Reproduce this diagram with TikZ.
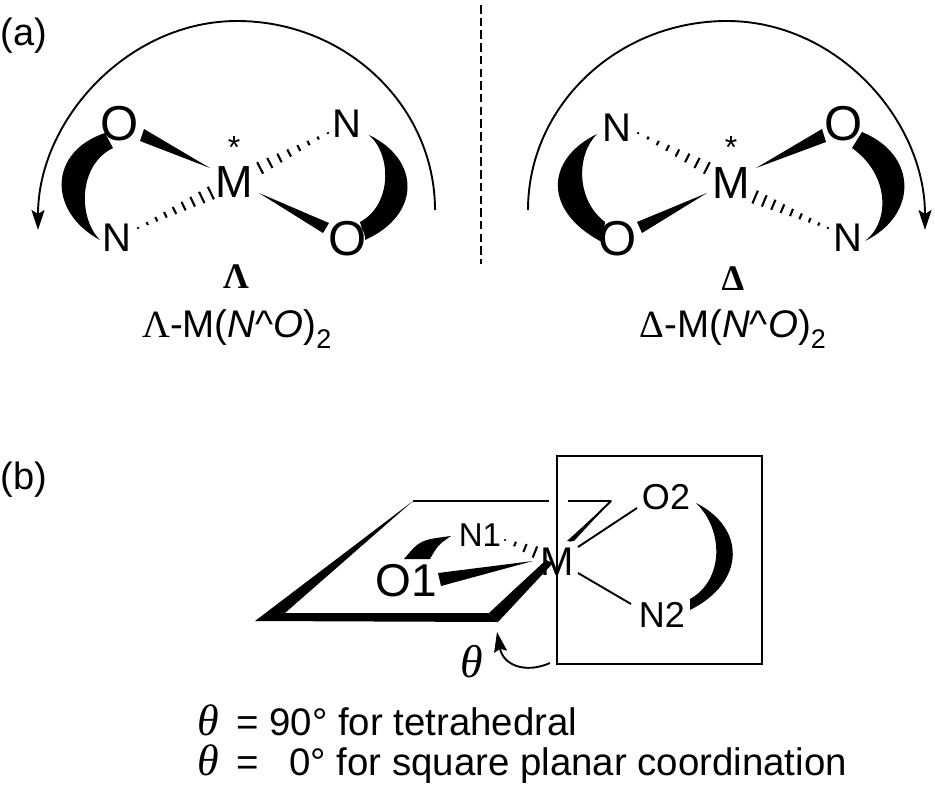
\documentclass[tikz,border=0pt]{standalone}
\usepackage{fontspec}
\setmainfont{Liberation Sans}
\newfontfamily\serifgk{Liberation Serif}
\usetikzlibrary{calc,arrows.meta}
\newcommand{\fs}[1]{\fontsize{#1}{#1}\selectfont}
\newcommand{\thetasym}{\makebox[39pt][l]{\serifgk\itshape\fs{44}θ}}
\newcommand{\hashbond}[4]{% narrow, wide, count, half width
  \foreach \i in {1,...,#3}{
    \pgfmathsetmacro{\p}{0.002+0.996*(\i-1)/(#3-1)}
    \pgfmathsetmacro{\w}{#4*(0.12+0.88*\p)}
    \draw[hashline] ($(#1)!\p!(#2)!\w pt!90:(#2)$) -- ($(#1)!\p!(#2)!\w pt!-90:(#2)$);
  }}
\newcommand{\wedgebond}[3]{\fill (#1) -- (#2) -- (#3) -- cycle;}
\tikzset{
  every node/.style={inner sep=0pt,outer sep=0pt},
  thinline/.style={line width=1.9pt,black},
  hashline/.style={line width=2.1pt,black},
  paneltag/.style={font=\fs{38}},
  bigO/.style={font=\fs{49}},
  atomN/.style={font=\fs{40}},
  metal/.style={font=\fs{45}},
  starmark/.style={font=\fs{32}},
  formula/.style={font=\fs{38.5}},
  chir/.style={font=\serifgk\bfseries\fs{36}},
  notetext/.style={font=\fs{38.4},anchor=base west},
  arrowline/.style={thinline,-{Stealth[length=20pt,width=13pt,inset=4pt]}}
}
\begin{document}
\begin{tikzpicture}[x=1pt,y=-1pt]
\useasboundingbox (0,0) rectangle (935,788);
% ---------- panel a, left
\node[paneltag] (la) at (24,36) {(a)};
\fill (100,240) .. controls (48,212) and (48,152) .. (105,133) -- (113,148)
      .. controls (78,165) and (78,218) .. cycle;
\fill (369,135) .. controls (421,160) and (421,215) .. (365,240) -- (360,222)
      .. controls (392,205) and (392,155) .. cycle;
\fill[white] (120,124) circle (17);
\fill[white] (348,239) circle (17);
\node[bigO] (O1L) at (120,124) {O};
\node[atomN] (N1L) at (347,124) {N};
\node[atomN] (N2L) at (117,238) {N};
\node[bigO] (O2L) at (348,239) {O};
\node[metal] (ML) at (234,182) {M};
\node[starmark] (SL) at (234,147) {*};
\coordinate (a1) at (210,168); \coordinate (a2) at (144,129); \coordinate (a3) at (140,141);
\wedgebond{a1}{a2}{a3}
\coordinate (a4) at (259,193); \coordinate (a5) at (329,223); \coordinate (a6) at (323,233);
\wedgebond{a4}{a5}{a6}
\coordinate (a7) at (328,133); \coordinate (a8) at (260,168);
\hashbond{a7}{a8}{8}{6.5}
\coordinate (a9) at (138,228); \coordinate (a10) at (211,193);
\hashbond{a9}{a10}{9}{7}
\coordinate (arcLs) at (435,210); \coordinate (arcLt) at (237,21); \coordinate (arcLe) at (38,230);
\draw[arrowline] (arcLs) .. controls (435,106) and (346,21) .. (arcLt)
      .. controls (128,21) and (38,120) .. (arcLe);
\node[chir] (LamB) at (236,277) {Λ};
\node[formula] (LamN) at (237,329) {{\serifgk Λ}-M(\textit{N}\textasciicircum\textit{O})$_{\mathrm{2}}$};
% ---------- divider
\coordinate (d1) at (481,5); \coordinate (d2) at (481,264);
\draw[line width=2pt,dash pattern=on 8.5pt off 4.2pt] (d1) -- (d2);
% ---------- panel a, right
\fill (597,134) .. controls (544,160) and (544,212) .. (602,242) -- (605,222)
      .. controls (576,200) and (576,155) .. cycle;
\fill (862,132) .. controls (918,155) and (918,215) .. (865,241)
      .. controls (890,222) and (890,175) .. (852,148) -- cycle;
\fill[white] (618,239) circle (17);
\fill[white] (844,124) circle (17);
\node[atomN] (N1R) at (617,128) {N};
\node[bigO] (O1R) at (844,124) {O};
\node[bigO] (O2R) at (618,239) {O};
\node[atomN] (N2R) at (848,238) {N};
\node[metal] (MR) at (731,183) {M};
\node[starmark] (SR) at (731,147) {*};
\coordinate (b1) at (756,168); \coordinate (b2) at (822,129); \coordinate (b3) at (826,142);
\wedgebond{b1}{b2}{b3}
\coordinate (b4) at (707,193); \coordinate (b5) at (637,222); \coordinate (b6) at (642,233);
\wedgebond{b4}{b5}{b6}
\coordinate (b7) at (638,133); \coordinate (b8) at (707,168);
\hashbond{b7}{b8}{8}{6.5}
\coordinate (b9) at (828,228); \coordinate (b10) at (755,197);
\hashbond{b9}{b10}{9}{7}
\coordinate (arcRs) at (528,210); \coordinate (arcRt) at (727,21); \coordinate (arcRe) at (925,230);
\draw[arrowline] (arcRs) .. controls (528,106) and (617,21) .. (arcRt)
      .. controls (837,21) and (925,120) .. (arcRe);
\node[chir] (DelB) at (733,279) {Δ};
\node[formula] (DelN) at (733,329) {{\serifgk Δ}-M(\textit{N}\textasciicircum\textit{O})$_{\mathrm{2}}$};
% ---------- panel b
\node[paneltag] (lb) at (24,480) {(b)};
\coordinate (p1) at (413,501); \coordinate (p2) at (255,621); \coordinate (p3) at (498,622);
\coordinate (p4) at (489,613); \coordinate (p5) at (285,613); \coordinate (p6) at (611,501);
\coordinate (p7) at (549,501); \coordinate (p8) at (568,501);
\fill (p1) -- (p2) -- (p3) -- (p4) -- (p5) -- cycle;
\draw[thinline] (p1) -- (p7);
\draw[thinline] (p8) -- (p6);
\fill (p6) -- (574,541) -- (567,541) -- cycle;
\draw[thinline,line cap=round] (p6) -- (570,541);
\fill (p3) -- (p4) -- (546,560) -- (553,563) -- cycle;
% box
\draw[thinline] (557,456) rectangle (762,664);
% ligand
\fill (451,536) .. controls (420,540) .. (404,559) -- (430,559) .. controls (438,545) .. cycle;
\fill (696,503) .. controls (746,528) and (746,582) .. (690,610) -- (690,599)
      .. controls (724,580) and (724,530) .. cycle;
\node[font=\fs{46}] (O1b) at (406,581) {O1};
\node[font=\fs{33}] (N1b) at (480,535) {N1};
\node[font=\fs{40}] (Mb) at (557,562) {M};
\node[font=\fs{36}] (O2b) at (666,497) {O2};
\node[font=\fs{36}] (N2b) at (662,615) {N2};
\coordinate (w1) at (533,561); \coordinate (w2) at (438,573); \coordinate (w3) at (441,586);
\wedgebond{w1}{w2}{w3}
\coordinate (h1) at (505,540); \coordinate (h2) at (535,552);
\hashbond{h1}{h2}{4}{6}
\coordinate (s1) at (578,547); \coordinate (s2) at (637,508);
\coordinate (s3) at (578,573); \coordinate (s4) at (631,604);
\draw[thinline] (s1) -- (s2);
\draw[thinline] (s3) -- (s4);
\node[font=\serifgk\itshape\fs{46}] (th) at (472,662) {θ};
\coordinate (c1) at (550,663); \coordinate (c2) at (497,632);
\draw[thinline,-{Stealth[length=20pt,width=13pt,inset=3pt]}] (c1) .. controls (525,674) and (503,665) .. (c2);
\node[notetext] (t1) at (197,735) {\thetasym=\hspace{11pt}90° for tetrahedral};
\node[notetext] (t2) at (197,775) {\thetasym=\hspace{31pt}0° for square planar coordination};
\end{tikzpicture}
\end{document}
